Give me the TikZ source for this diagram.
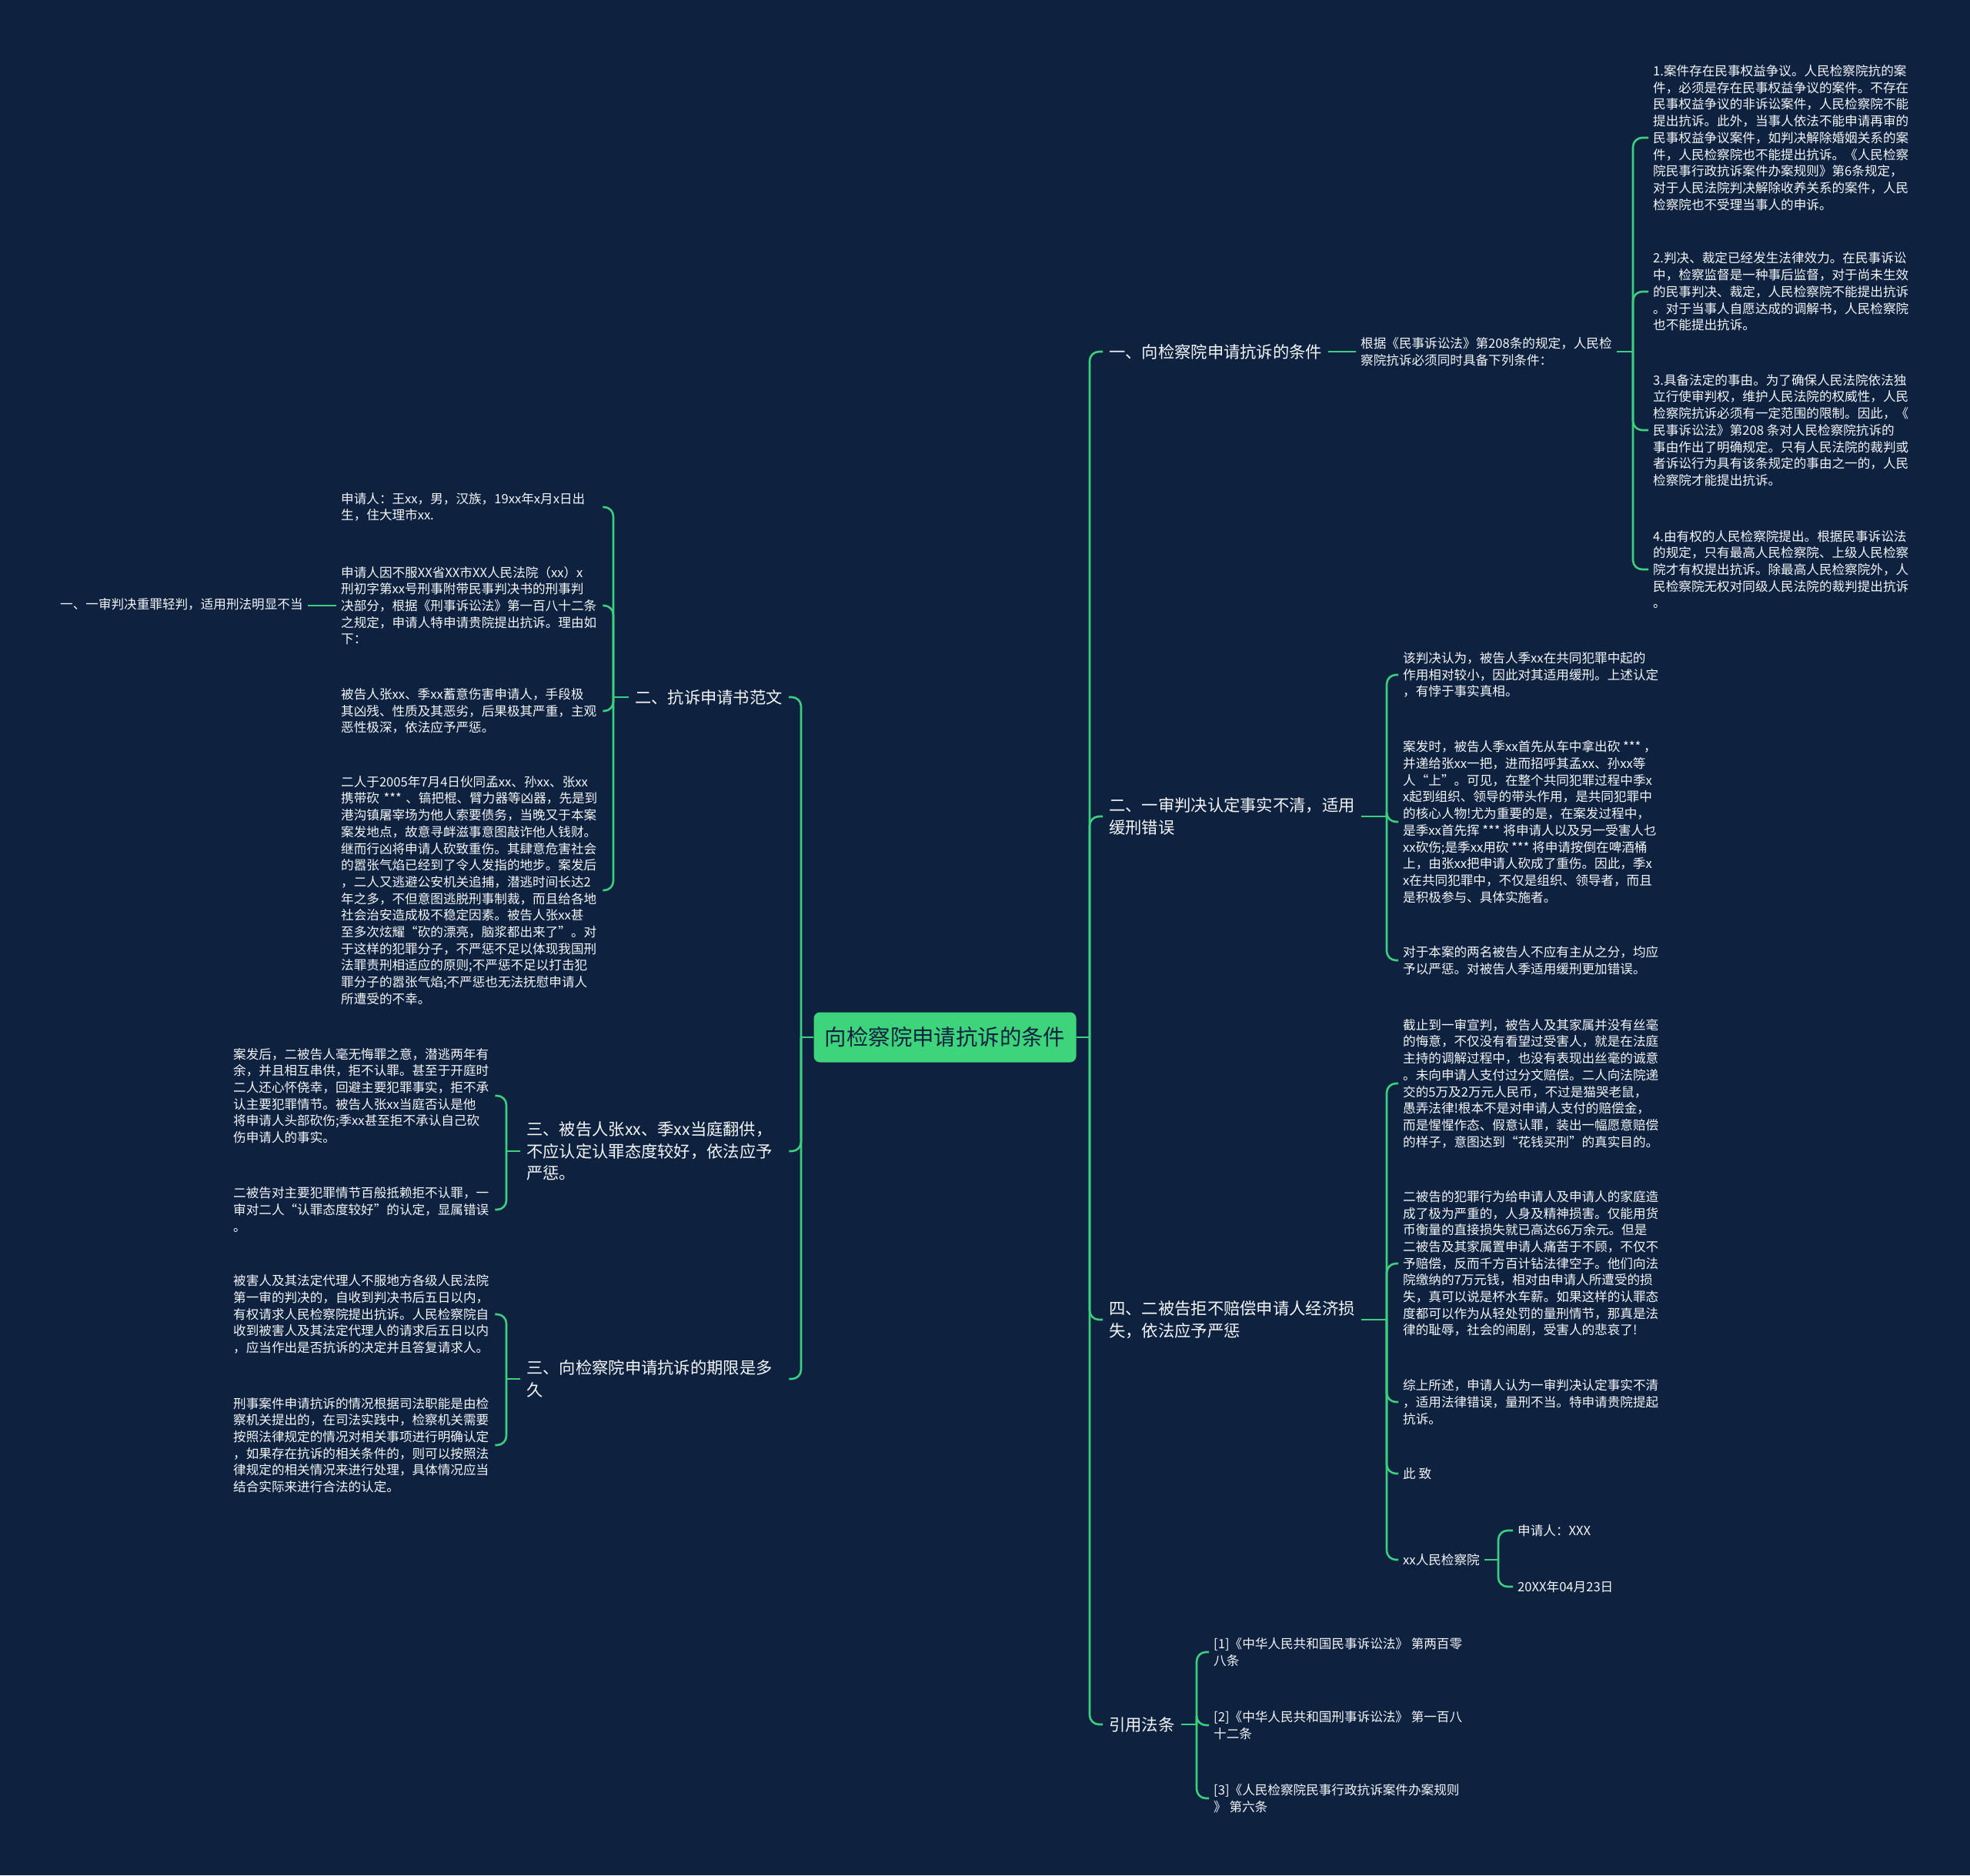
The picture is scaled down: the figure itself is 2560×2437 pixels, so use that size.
\documentclass[tikz,border=0pt]{standalone}
\usepackage{fontspec}
\setmainfont{Noto Sans CJK SC}
\newfontfamily\cjk{Noto Sans CJK SC}
\definecolor{bg}{HTML}{0E2240}
\definecolor{ln}{HTML}{3DCF7E}
\definecolor{rootfill}{HTML}{3DD47C}
\definecolor{roottext}{HTML}{0E2240}
\definecolor{tx}{HTML}{F4F6F8}
\begin{document}
\begin{tikzpicture}[x=1pt,y=-1pt,
  conn/.style={draw=ln, line width=2.6pt, rounded corners=12pt},
  txt/.style={text=tx, font=\cjk\fontsize{16.6}{21.7}\selectfont, align=left, inner xsep=6pt, inner ysep=2pt},
  lbox/.style={txt, text width=334pt},
  lv/.style={text=tx, font=\cjk\fontsize{21.3}{28.5}\selectfont, align=left, inner xsep=8pt, inner ysep=2pt},
  rootbox/.style={fill=rootfill, rounded corners=8pt, minimum width=341pt, minimum height=65pt, inner sep=0pt, text=roottext, font=\cjk\fontsize{28.4}{32}\selectfont}]
\fill[bg] (0,0) rectangle (2560,2437);
\useasboundingbox (0,0) rectangle (2560,2437);

% root
\node[rootbox] (root) at (1228,1348) {向检察院申请抗诉的条件};

% ---------- right side ----------
\node[lv, anchor=west] (R1) at (1433,457) {一、向检察院申请抗诉的条件};
\node[lv, anchor=west] (R2) at (1433,1061) {二、一审判决认定事实不清，适用\\缓刑错误};
\node[lv, anchor=west] (R3) at (1433,1715) {四、二被告拒不赔偿申请人经济损\\失，依法应予严惩};
\node[lv, anchor=west] (R4) at (1433,2241) {引用法条};

\node[txt, anchor=west] (R1a) at (1762,457) {根据《民事诉讼法》第208条的规定，人民检\\察院抗诉必须同时具备下列条件：};

\node[txt, anchor=west] (c11) at (2142,179) {1.案件存在民事权益争议。人民检察院抗的案\\件，必须是存在民事权益争议的案件。不存在\\民事权益争议的非诉讼案件，人民检察院不能\\提出抗诉。此外，当事人依法不能申请再审的\\民事权益争议案件，如判决解除婚姻关系的案\\件，人民检察院也不能提出抗诉。《人民检察\\院民事行政抗诉案件办案规则》第6条规定，\\对于人民法院判决解除收养关系的案件，人民\\检察院也不受理当事人的申诉。};
\node[txt, anchor=west] (c12) at (2142,379) {2.判决、裁定已经发生法律效力。在民事诉讼\\中，检察监督是一种事后监督，对于尚未生效\\的民事判决、裁定，人民检察院不能提出抗诉\\。对于当事人自愿达成的调解书，人民检察院\\也不能提出抗诉。};
\node[txt, anchor=west] (c13) at (2142,559) {3.具备法定的事由。为了确保人民法院依法独\\立行使审判权，维护人民法院的权威性，人民\\检察院抗诉必须有一定范围的限制。因此，《\\民事诉讼法》第208 条对人民检察院抗诉的\\事由作出了明确规定。只有人民法院的裁判或\\者诉讼行为具有该条规定的事由之一的，人民\\检察院才能提出抗诉。};
\node[txt, anchor=west] (c14) at (2142,740) {4.由有权的人民检察院提出。根据民事诉讼法\\的规定，只有最高人民检察院、上级人民检察\\院才有权提出抗诉。除最高人民检察院外，人\\民检察院无权对同级人民法院的裁判提出抗诉\\。};

\node[txt, anchor=west] (c21) at (1817,877) {该判决认为，被告人季xx在共同犯罪中起的\\作用相对较小，因此对其适用缓刑。上述认定\\，有悖于事实真相。};
\node[txt, anchor=west] (c22) at (1817,1068) {案发时，被告人季xx首先从车中拿出砍 *** ，\\并递给张xx一把，进而招呼其孟xx、孙xx等\\人“上”。可见，在整个共同犯罪过程中季x\\x起到组织、领导的带头作用，是共同犯罪中\\的核心人物!尤为重要的是，在案发过程中，\\是季xx首先挥 *** 将申请人以及另一受害人乜\\xx砍伤;是季xx用砍 *** 将申请按倒在啤酒桶\\上，由张xx把申请人砍成了重伤。因此，季x\\x在共同犯罪中，不仅是组织、领导者，而且\\是积极参与、具体实施者。};
\node[txt, anchor=west] (c23) at (1817,1248) {对于本案的两名被告人不应有主从之分，均应\\予以严惩。对被告人季适用缓刑更加错误。};

\node[txt, anchor=west] (c31) at (1817,1408) {截止到一审宣判，被告人及其家属并没有丝毫\\的悔意，不仅没有看望过受害人，就是在法庭\\主持的调解过程中，也没有表现出丝毫的诚意\\。未向申请人支付过分文赔偿。二人向法院递\\交的5万及2万元人民币，不过是猫哭老鼠，\\愚弄法律!根本不是对申请人支付的赔偿金，\\而是惺惺作态、假意认罪，装出一幅愿意赔偿\\的样子，意图达到“花钱买刑”的真实目的。};
\node[txt, anchor=west] (c32) at (1817,1642) {二被告的犯罪行为给申请人及申请人的家庭造\\成了极为严重的，人身及精神损害。仅能用货\\币衡量的直接损失就已高达66万余元。但是\\二被告及其家属置申请人痛苦于不顾，不仅不\\予赔偿，反而千方百计钻法律空子。他们向法\\院缴纳的7万元钱，相对由申请人所遭受的损\\失，真可以说是杯水车薪。如果这样的认罪态\\度都可以作为从轻处罚的量刑情节，那真是法\\律的耻辱，社会的闹剧，受害人的悲哀了!};
\node[txt, anchor=west] (c33) at (1817,1822) {综上所述，申请人认为一审判决认定事实不清\\，适用法律错误，量刑不当。特申请贵院提起\\抗诉。};
\node[txt, anchor=west] (c34) at (1817,1915) {此 致};
\node[txt, anchor=west] (c35) at (1817,2027) {xx人民检察院};
\node[txt, anchor=west] (c351) at (1966,1989) {申请人：XXX};
\node[txt, anchor=west] (c352) at (1966,2062) {20XX年04月23日};

\node[txt, anchor=west] (c41) at (1571,2147) {[1]《中华人民共和国民事诉讼法》 第两百零\\八条};
\node[txt, anchor=west] (c42) at (1571,2242) {[2]《中华人民共和国刑事诉讼法》 第一百八\\十二条};
\node[txt, anchor=west] (c43) at (1571,2337) {[3]《人民检察院民事行政抗诉案件办案规则\\》 第六条};

% ---------- left side ----------
\node[lv, anchor=east] (L1) at (1025,906) {二、抗诉申请书范文};
\node[lv, anchor=west, text width=333pt] (L2) at (676,1496) {三、被告人张xx、季xx当庭翻供，\\不应认定认罪态度较好，依法应予\\严惩。};
\node[lv, anchor=west, text width=333pt] (L3) at (676,1792) {三、向检察院申请抗诉的期限是多\\久};

\node[lbox, anchor=west] (f1) at (437,659) {申请人：王xx，男，汉族，19xx年x月x日出\\生，住大理市xx.};
\node[lbox, anchor=west] (f2) at (437,787) {申请人因不服XX省XX市XX人民法院（xx）x\\刑初字第xx号刑事附带民事判决书的刑事判\\决部分，根据《刑事诉讼法》第一百八十二条\\之规定，申请人特申请贵院提出抗诉。理由如\\下：};
\node[lbox, anchor=west] (f3) at (437,924) {被告人张xx、季xx蓄意伤害申请人，手段极\\其凶残、性质及其恶劣，后果极其严重，主观\\恶性极深，依法应予严惩。};
\node[lbox, anchor=west] (f4) at (437,1157) {二人于2005年7月4日伙同孟xx、孙xx、张xx\\携带砍 *** 、镐把棍、臂力器等凶器，先是到\\港沟镇屠宰场为他人索要债务，当晚又于本案\\案发地点，故意寻衅滋事意图敲诈他人钱财。\\继而行凶将申请人砍致重伤。其肆意危害社会\\的嚣张气焰已经到了令人发指的地步。案发后\\，二人又逃避公安机关追捕，潜逃时间长达2\\年之多，不但意图逃脱刑事制裁，而且给各地\\社会治安造成极不稳定因素。被告人张xx甚\\至多次炫耀“砍的漂亮，脑浆都出来了”。对\\于这样的犯罪分子，不严惩不足以体现我国刑\\法罪责刑相适应的原则;不严惩不足以打击犯\\罪分子的嚣张气焰;不严惩也无法抚慰申请人\\所遭受的不幸。};
\node[txt, anchor=west] (f2a) at (72,785) {一、一审判决重罪轻判，适用刑法明显不当};

\node[lbox, anchor=west] (g1) at (297,1424) {案发后，二被告人毫无悔罪之意，潜逃两年有\\余，并且相互串供，拒不认罪。甚至于开庭时\\二人还心怀侥幸，回避主要犯罪事实，拒不承\\认主要犯罪情节。被告人张xx当庭否认是他\\将申请人头部砍伤;季xx甚至拒不承认自己砍\\伤申请人的事实。};
\node[lbox, anchor=west] (g2) at (297,1572) {二被告对主要犯罪情节百般抵赖拒不认罪，一\\审对二人“认罪态度较好”的认定，显属错误\\。};

\node[lbox, anchor=west] (h1) at (297,1708) {被害人及其法定代理人不服地方各级人民法院\\第一审的判决的，自收到判决书后五日以内，\\有权请求人民检察院提出抗诉。人民检察院自\\收到被害人及其法定代理人的请求后五日以内\\，应当作出是否抗诉的决定并且答复请求人。};
\node[lbox, anchor=west] (h2) at (297,1878) {刑事案件申请抗诉的情况根据司法职能是由检\\察机关提出的，在司法实践中，检察机关需要\\按照法律规定的情况对相关事项进行明确认定\\，如果存在抗诉的相关条件的，则可以按照法\\律规定的相关情况来进行处理，具体情况应当\\结合实际来进行合法的认定。};

% ---------- junctions ----------
\coordinate (JR) at (1416,1348);
\coordinate (JL) at (1041,1348);
\coordinate (J1) at (2122,457);
\coordinate (J2) at (1802,1061);
\coordinate (J3) at (1802,1715);
\coordinate (J35) at (1947,2027);
\coordinate (J4) at (1555,2241);
\coordinate (JL1) at (797,906);
\coordinate (JL2) at (658,1496);
\coordinate (JL3) at (658,1792);

% ---------- connectors ----------
\draw[conn] (root.east) -- (JR);
\foreach \n in {R1,R2,R3,R4} \draw[conn] (JR) |- (\n.west);
\draw[conn] (root.west) -- (JL);
\foreach \n in {L1,L2,L3} \draw[conn] (JL) |- (\n.east);

\draw[conn] (R1.east) -- (R1a.west);
\draw[conn] (R1a.east) -- (J1);
\foreach \n in {c11,c12,c13,c14} \draw[conn] (J1) |- (\n.west);

\draw[conn] (R2.east -| R2.east) -- (J2);
\foreach \n in {c21,c22,c23} \draw[conn] (J2) |- (\n.west);

\draw[conn] (R3.east) -- (J3);
\foreach \n in {c31,c32,c33,c34,c35} \draw[conn] (J3) |- (\n.west);
\draw[conn] (c35.east) -- (J35);
\foreach \n in {c351,c352} \draw[conn] (J35) |- (\n.west);

\draw[conn] (R4.east) -- (J4);
\foreach \n in {c41,c42,c43} \draw[conn] (J4) |- (\n.west);

\draw[conn] (L1.west) -- (JL1);
\foreach \n in {f1,f2,f3,f4} \draw[conn] (JL1) |- (\n.east);
\draw[conn] (f2.west) -- (f2.west -| f2a.east);

\draw[conn] (L2.west) -- (JL2);
\foreach \n in {g1,g2} \draw[conn] (JL2) |- (\n.east);
\draw[conn] (L3.west) -- (JL3);
\foreach \n in {h1,h2} \draw[conn] (JL3) |- (\n.east);
\end{tikzpicture}
\end{document}
